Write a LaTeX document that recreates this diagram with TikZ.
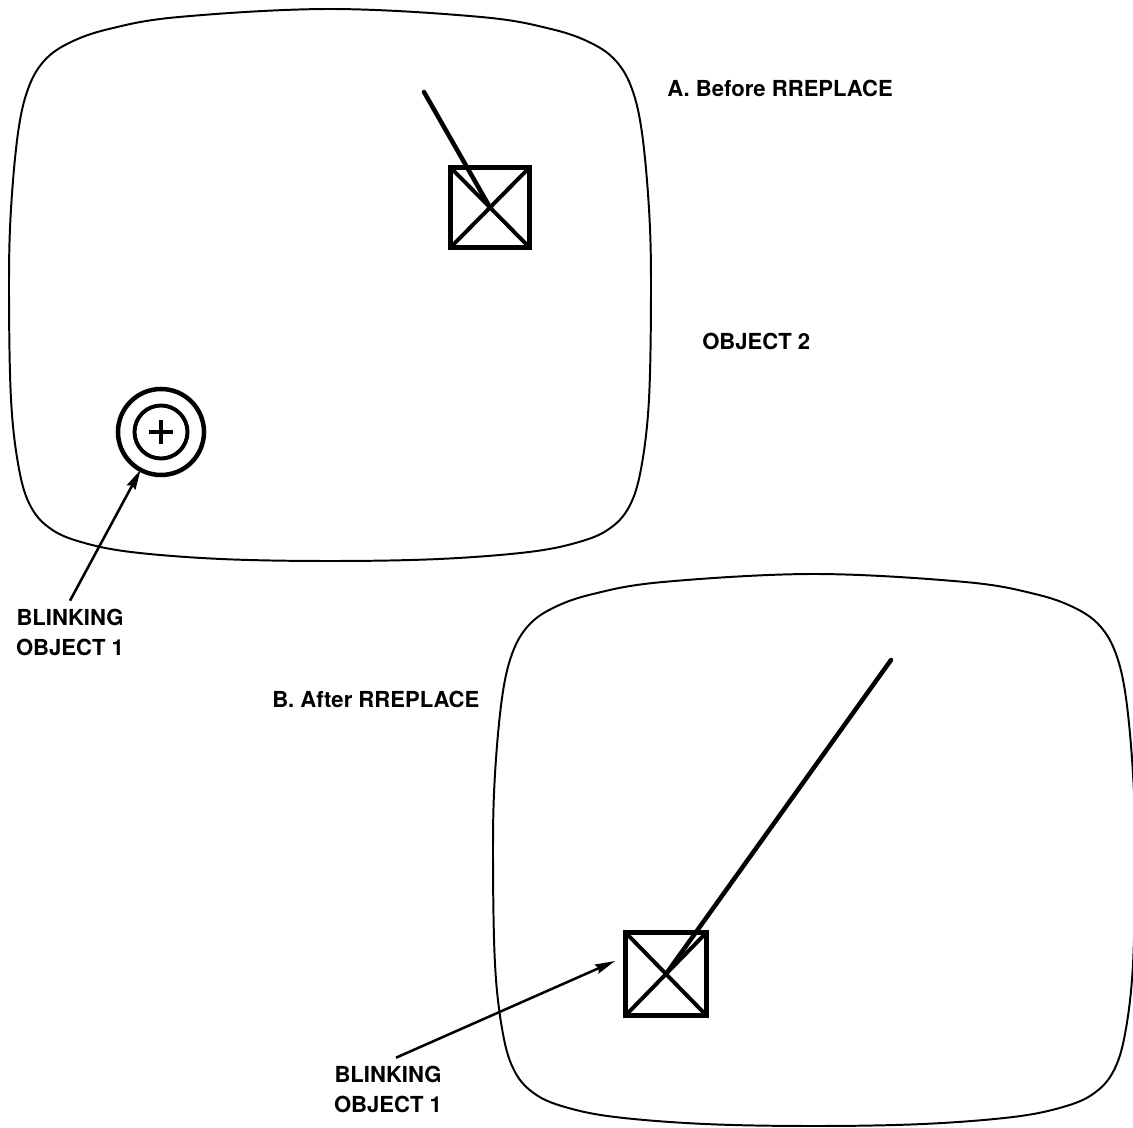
\documentclass[tikz,border=0pt]{standalone}
\usepackage{fontspec}
\setmainfont{TeX Gyre Heros}
\usetikzlibrary{arrows.meta}

\tikzset{
  pics/screen/.style={code={
    \draw[screen line] plot[smooth cycle, tension=0.6] coordinates {
      (0,276) (2,200) (9,124) (19,80) (35,52) (60,34) (100,20) (170,8)
      (321,0) (472,8) (542,20) (582,34) (607,52) (623,80) (633,124) (640,200)
      (642,276) (640,390) (632,460) (620,498) (600,520) (570,533) (520,543) (430,550)
      (321,552) (212,550) (122,543) (72,533) (42,520) (22,498) (10,460) (2,390)};
  }}
}

\begin{document}
\begin{tikzpicture}[x=0.025cm, y=-0.025cm,
  screen line/.style={line width=1.4pt},
  lbl/.style={font=\fontsize{15.7}{21.3}\selectfont\bfseries, inner sep=0pt},
  box/.style={draw, line width=3.6pt, outer sep=0pt, inner sep=0pt},
  diag/.style={line width=2.8pt},
  pen/.style={line width=3.2pt, line cap=round},
  ring/.style={draw, circle, line width=3.2pt, outer sep=0pt, inner sep=0pt},
  arr/.style={-{Stealth[length=0.5cm, width=0.24cm, inset=0.06cm]}, line width=1.8pt}]
\useasboundingbox (0,0) rectangle (1133,1128);

% A. before
\pic at (9,9) {screen};
\node[lbl, anchor=base west] (titleA) at (667,97) {A. Before RREPLACE};
\node[lbl, anchor=base west] (objTwo) at (702,350) {OBJECT 2};

\node[box, minimum width=1.975cm, minimum height=2cm] (boxA) at (490,207.5) {};
\draw[diag] (boxA.north west) -- (boxA.south east) (boxA.south west) -- (boxA.north east);
\coordinate (penA) at (424,92);
\draw[pen] (penA) -- (boxA.center);

\node[ring, minimum size=2.15cm] (ringA) at (161,432) {};
\node[ring, minimum size=1.325cm, line width=2.8pt] (coreA) at (ringA) {};
\draw[line width=2.2pt] ([xshift=-0.3cm]coreA.center) -- ([xshift=0.3cm]coreA.center)
  ([yshift=-0.3cm]coreA.center) -- ([yshift=0.3cm]coreA.center);

\node[lbl, align=center, outer sep=0.2cm] (blinkA) at (70,632) {BLINKING\\OBJECT 1};
\draw[arr] (blinkA.north) -- (ringA);

% B. after
\pic at (493,574) {screen};
\node[lbl, anchor=base west] (titleB) at (272,707) {B. After RREPLACE};

\node[box, minimum width=2.025cm, minimum height=2.075cm] (boxB) at (666,974) {};
\draw[diag] (boxB.north west) -- (boxB.south east) (boxB.south west) -- (boxB.north east);
\coordinate (penB) at (891,660);
\draw[pen] (penB) -- (boxB.center);

\node[lbl, align=center, outer sep=0.2cm] (blinkB) at (388,1089) {BLINKING\\OBJECT 1};
\coordinate (tipB) at (615,961);
\draw[arr] ([xshift=0.2cm]blinkB.north) -- (tipB);
\end{tikzpicture}
\end{document}
